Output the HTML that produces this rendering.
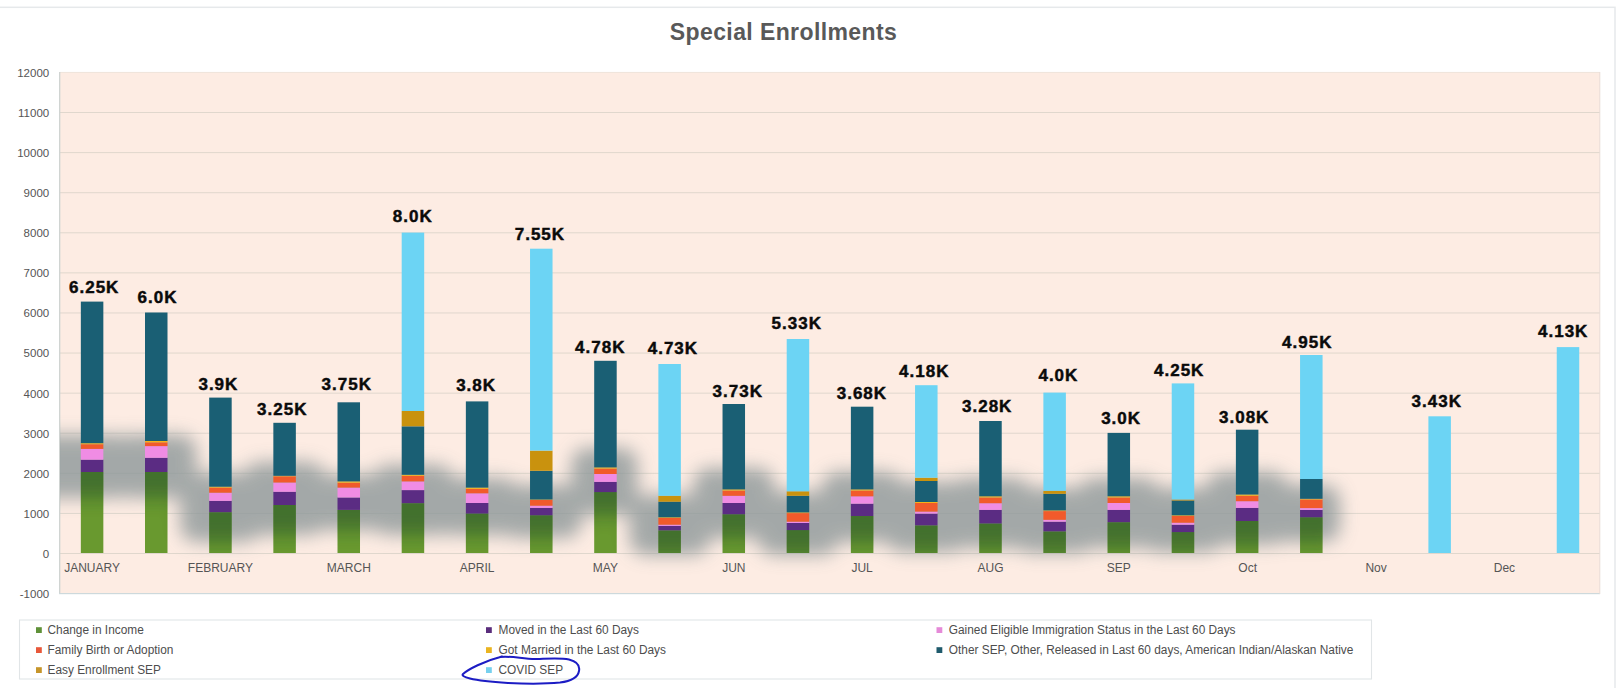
<!DOCTYPE html>
<html lang="en"><head><meta charset="utf-8"><title>Special Enrollments</title>
<style>
html,body{margin:0;padding:0;background:#fff;}
body{width:1618px;height:688px;overflow:hidden;font-family:"Liberation Sans",Arial,Helvetica,sans-serif;}
svg{display:block}
.ax{font-size:12px;fill:#555;}
.ay{font-size:11.5px;fill:#555;}
.dl{font-size:17px;font-weight:700;fill:#0a0a0a;stroke:#0a0a0a;stroke-width:.45px;letter-spacing:1px;text-anchor:middle;}
.lg{font-size:11.87px;fill:#4d4d4d;}
.title{font-size:23px;font-weight:700;fill:#595959;text-anchor:middle;letter-spacing:.4px;}
</style></head><body>
<svg width="1618" height="688" viewBox="0 0 1618 688" font-family="Liberation Sans, Arial, Helvetica, sans-serif">
<defs>
<filter id="blur" x="-5%" y="-50%" width="110%" height="200%"><feGaussianBlur stdDeviation="9"/></filter>

<g id="smudge">
<rect x="30.0" y="435" width="102.2" height="63" rx="16"/>
<rect x="116.2" y="435" width="80.2" height="63" rx="16"/>
<rect x="180.3" y="473" width="80.2" height="69" rx="16"/>
<rect x="244.5" y="462" width="80.2" height="73" rx="16"/>
<rect x="308.7" y="475" width="80.2" height="55" rx="16"/>
<rect x="372.9" y="465" width="80.2" height="70" rx="16"/>
<rect x="437.0" y="478" width="80.2" height="57" rx="16"/>
<rect x="501.2" y="485" width="80.2" height="53" rx="16"/>
<rect x="571.4" y="448" width="66.2" height="67" rx="16"/>
<rect x="629.5" y="495" width="80.2" height="60" rx="16"/>
<rect x="693.7" y="468" width="80.2" height="70" rx="16"/>
<rect x="757.9" y="492" width="80.2" height="63" rx="16"/>
<rect x="822.0" y="472" width="80.2" height="70" rx="16"/>
<rect x="886.2" y="482" width="80.2" height="70" rx="16"/>
<rect x="950.4" y="478" width="80.2" height="70" rx="16"/>
<rect x="1014.6" y="488" width="80.2" height="65" rx="16"/>
<rect x="1078.7" y="478" width="80.2" height="70" rx="16"/>
<rect x="1142.9" y="488" width="80.2" height="64" rx="16"/>
<rect x="1207.1" y="472" width="80.2" height="73" rx="16"/>
<rect x="1271.2" y="485" width="68.8" height="57" rx="16"/>
</g>
<clipPath id="greens">
<rect x="80.84" y="472" width="22.5" height="81.00"/>
<rect x="145.00" y="472" width="22.5" height="81.00"/>
<rect x="209.18" y="512.2" width="22.5" height="40.80"/>
<rect x="273.35" y="505" width="22.5" height="48.00"/>
<rect x="337.51" y="509.9" width="22.5" height="43.10"/>
<rect x="401.69" y="503.2" width="22.5" height="49.80"/>
<rect x="465.86" y="513.6" width="22.5" height="39.40"/>
<rect x="530.03" y="515.3" width="22.5" height="37.70"/>
<rect x="594.20" y="492.1" width="22.5" height="60.90"/>
<rect x="658.37" y="530.4" width="22.5" height="22.60"/>
<rect x="722.53" y="514.3" width="22.5" height="38.70"/>
<rect x="786.71" y="530.1" width="22.5" height="22.90"/>
<rect x="850.88" y="516" width="22.5" height="37.00"/>
<rect x="915.05" y="525.4" width="22.5" height="27.60"/>
<rect x="979.22" y="523.5" width="22.5" height="29.50"/>
<rect x="1043.38" y="531.4" width="22.5" height="21.60"/>
<rect x="1107.56" y="522.2" width="22.5" height="30.80"/>
<rect x="1171.73" y="532.1" width="22.5" height="20.90"/>
<rect x="1235.89" y="521" width="22.5" height="32.00"/>
<rect x="1300.07" y="517.3" width="22.5" height="35.70"/>
</clipPath>
<clipPath id="plotclip"><rect x="60" y="72" width="1540" height="522"/></clipPath>
</defs>
<rect x="-2" y="7.3" width="1617" height="700" fill="#fff" stroke="#e6e9eb" stroke-width="1.5"/>
<text class="title" x="783.5" y="39.5">Special Enrollments</text>
<rect x="59" y="72" width="1541" height="522" fill="#fdece3"/>
<rect x="60" y="553.00" width="1540" height="1" fill="#e0d7cd"/>
<rect x="60" y="512.91" width="1540" height="1" fill="#e0d7cd"/>
<rect x="60" y="472.82" width="1540" height="1" fill="#e0d7cd"/>
<rect x="60" y="432.73" width="1540" height="1" fill="#e0d7cd"/>
<rect x="60" y="392.64" width="1540" height="1" fill="#e0d7cd"/>
<rect x="60" y="352.55" width="1540" height="1" fill="#e0d7cd"/>
<rect x="60" y="312.46" width="1540" height="1" fill="#e0d7cd"/>
<rect x="60" y="272.37" width="1540" height="1" fill="#e0d7cd"/>
<rect x="60" y="232.28" width="1540" height="1" fill="#e0d7cd"/>
<rect x="60" y="192.19" width="1540" height="1" fill="#e0d7cd"/>
<rect x="60" y="152.10" width="1540" height="1" fill="#e0d7cd"/>
<rect x="60" y="112.01" width="1540" height="1" fill="#e0d7cd"/>
<rect x="60" y="71.92" width="1540" height="1" fill="#efe4dc"/>
<rect x="59" y="72" width="1.35" height="522" fill="#d0d4d2"/>
<rect x="59" y="592.99" width="1541" height="1.2" fill="#cdd9dc"/>
<rect x="1599.3" y="72" width="1" height="522" fill="#e9ddd7"/>
<text class="ay" x="49.2" y="597.99" text-anchor="end">-1000</text>
<text class="ay" x="49.2" y="557.90" text-anchor="end">0</text>
<text class="ay" x="49.2" y="517.81" text-anchor="end">1000</text>
<text class="ay" x="49.2" y="477.72" text-anchor="end">2000</text>
<text class="ay" x="49.2" y="437.63" text-anchor="end">3000</text>
<text class="ay" x="49.2" y="397.54" text-anchor="end">4000</text>
<text class="ay" x="49.2" y="357.45" text-anchor="end">5000</text>
<text class="ay" x="49.2" y="317.36" text-anchor="end">6000</text>
<text class="ay" x="49.2" y="277.27" text-anchor="end">7000</text>
<text class="ay" x="49.2" y="237.18" text-anchor="end">8000</text>
<text class="ay" x="49.2" y="197.09" text-anchor="end">9000</text>
<text class="ay" x="49.2" y="157.00" text-anchor="end">10000</text>
<text class="ay" x="49.2" y="116.91" text-anchor="end">11000</text>
<text class="ay" x="49.2" y="76.82" text-anchor="end">12000</text>
<g clip-path="url(#plotclip)"><use href="#smudge" filter="url(#blur)" fill="#8b9698" opacity="0.78"/></g>
<rect x="80.84" y="472" width="22.5" height="81.00" fill="#69992f"/>
<rect x="80.84" y="459.7" width="22.5" height="12.30" fill="#5b2c83"/>
<rect x="80.84" y="448.9" width="22.5" height="10.80" fill="#f08ce4"/>
<rect x="80.84" y="444.2" width="22.5" height="4.70" fill="#f15a2b"/>
<rect x="80.84" y="443.2" width="22.5" height="1.00" fill="#f5b21a"/>
<rect x="80.84" y="301.6" width="22.5" height="141.60" fill="#1a5f74"/>
<rect x="145.00" y="472" width="22.5" height="81.00" fill="#69992f"/>
<rect x="145.00" y="457.8" width="22.5" height="14.20" fill="#5b2c83"/>
<rect x="145.00" y="446.1" width="22.5" height="11.70" fill="#f08ce4"/>
<rect x="145.00" y="442.3" width="22.5" height="3.80" fill="#f15a2b"/>
<rect x="145.00" y="441" width="22.5" height="1.30" fill="#f5b21a"/>
<rect x="145.00" y="312.5" width="22.5" height="128.50" fill="#1a5f74"/>
<rect x="209.18" y="512.2" width="22.5" height="40.80" fill="#69992f"/>
<rect x="209.18" y="500.9" width="22.5" height="11.30" fill="#5b2c83"/>
<rect x="209.18" y="492.7" width="22.5" height="8.20" fill="#f08ce4"/>
<rect x="209.18" y="487.6" width="22.5" height="5.10" fill="#f15a2b"/>
<rect x="209.18" y="486.7" width="22.5" height="0.90" fill="#f5b21a"/>
<rect x="209.18" y="397.6" width="22.5" height="89.10" fill="#1a5f74"/>
<rect x="273.35" y="505" width="22.5" height="48.00" fill="#69992f"/>
<rect x="273.35" y="491.8" width="22.5" height="13.20" fill="#5b2c83"/>
<rect x="273.35" y="482.5" width="22.5" height="9.30" fill="#f08ce4"/>
<rect x="273.35" y="476.3" width="22.5" height="6.20" fill="#f15a2b"/>
<rect x="273.35" y="475.8" width="22.5" height="0.50" fill="#f5b21a"/>
<rect x="273.35" y="422.8" width="22.5" height="53.00" fill="#1a5f74"/>
<rect x="337.51" y="509.9" width="22.5" height="43.10" fill="#69992f"/>
<rect x="337.51" y="497.5" width="22.5" height="12.40" fill="#5b2c83"/>
<rect x="337.51" y="487.6" width="22.5" height="9.90" fill="#f08ce4"/>
<rect x="337.51" y="482.7" width="22.5" height="4.90" fill="#f15a2b"/>
<rect x="337.51" y="481.4" width="22.5" height="1.30" fill="#f5b21a"/>
<rect x="337.51" y="402.3" width="22.5" height="79.10" fill="#1a5f74"/>
<rect x="401.69" y="503.2" width="22.5" height="49.80" fill="#69992f"/>
<rect x="401.69" y="490.1" width="22.5" height="13.10" fill="#5b2c83"/>
<rect x="401.69" y="481.4" width="22.5" height="8.70" fill="#f08ce4"/>
<rect x="401.69" y="475.8" width="22.5" height="5.60" fill="#f15a2b"/>
<rect x="401.69" y="474.8" width="22.5" height="1.00" fill="#f5b21a"/>
<rect x="401.69" y="426.3" width="22.5" height="48.50" fill="#1a5f74"/>
<rect x="401.69" y="411" width="22.5" height="15.30" fill="#c9920e"/>
<rect x="401.69" y="232.6" width="22.5" height="178.40" fill="#6cd4f4"/>
<rect x="465.86" y="513.6" width="22.5" height="39.40" fill="#69992f"/>
<rect x="465.86" y="503" width="22.5" height="10.60" fill="#5b2c83"/>
<rect x="465.86" y="493.3" width="22.5" height="9.70" fill="#f08ce4"/>
<rect x="465.86" y="488.9" width="22.5" height="4.40" fill="#f15a2b"/>
<rect x="465.86" y="487.6" width="22.5" height="1.30" fill="#f5b21a"/>
<rect x="465.86" y="401.4" width="22.5" height="86.20" fill="#1a5f74"/>
<rect x="530.03" y="515.3" width="22.5" height="37.70" fill="#69992f"/>
<rect x="530.03" y="507.9" width="22.5" height="7.40" fill="#5b2c83"/>
<rect x="530.03" y="505.7" width="22.5" height="2.20" fill="#f08ce4"/>
<rect x="530.03" y="500" width="22.5" height="5.70" fill="#f15a2b"/>
<rect x="530.03" y="499.5" width="22.5" height="0.50" fill="#f5b21a"/>
<rect x="530.03" y="470.8" width="22.5" height="28.70" fill="#1a5f74"/>
<rect x="530.03" y="450.6" width="22.5" height="20.20" fill="#c9920e"/>
<rect x="530.03" y="248.7" width="22.5" height="201.90" fill="#6cd4f4"/>
<rect x="594.20" y="492.1" width="22.5" height="60.90" fill="#69992f"/>
<rect x="594.20" y="481.9" width="22.5" height="10.20" fill="#5b2c83"/>
<rect x="594.20" y="474" width="22.5" height="7.90" fill="#f08ce4"/>
<rect x="594.20" y="468.6" width="22.5" height="5.40" fill="#f15a2b"/>
<rect x="594.20" y="467.4" width="22.5" height="1.20" fill="#f5b21a"/>
<rect x="594.20" y="360.8" width="22.5" height="106.60" fill="#1a5f74"/>
<rect x="658.37" y="530.4" width="22.5" height="22.60" fill="#69992f"/>
<rect x="658.37" y="525.9" width="22.5" height="4.50" fill="#5b2c83"/>
<rect x="658.37" y="524.7" width="22.5" height="1.20" fill="#f08ce4"/>
<rect x="658.37" y="518" width="22.5" height="6.70" fill="#f15a2b"/>
<rect x="658.37" y="517.3" width="22.5" height="0.70" fill="#f5b21a"/>
<rect x="658.37" y="501.7" width="22.5" height="15.60" fill="#1a5f74"/>
<rect x="658.37" y="495.8" width="22.5" height="5.90" fill="#c9920e"/>
<rect x="658.37" y="364" width="22.5" height="131.80" fill="#6cd4f4"/>
<rect x="722.53" y="514.3" width="22.5" height="38.70" fill="#69992f"/>
<rect x="722.53" y="503" width="22.5" height="11.30" fill="#5b2c83"/>
<rect x="722.53" y="495.8" width="22.5" height="7.20" fill="#f08ce4"/>
<rect x="722.53" y="490.6" width="22.5" height="5.20" fill="#f15a2b"/>
<rect x="722.53" y="489.4" width="22.5" height="1.20" fill="#f5b21a"/>
<rect x="722.53" y="404" width="22.5" height="85.40" fill="#1a5f74"/>
<rect x="786.71" y="530.1" width="22.5" height="22.90" fill="#69992f"/>
<rect x="786.71" y="523" width="22.5" height="7.10" fill="#5b2c83"/>
<rect x="786.71" y="521.7" width="22.5" height="1.30" fill="#f08ce4"/>
<rect x="786.71" y="513.1" width="22.5" height="8.60" fill="#f15a2b"/>
<rect x="786.71" y="512.4" width="22.5" height="0.70" fill="#f5b21a"/>
<rect x="786.71" y="495.8" width="22.5" height="16.60" fill="#1a5f74"/>
<rect x="786.71" y="491.3" width="22.5" height="4.50" fill="#c9920e"/>
<rect x="786.71" y="339" width="22.5" height="152.30" fill="#6cd4f4"/>
<rect x="850.88" y="516" width="22.5" height="37.00" fill="#69992f"/>
<rect x="850.88" y="503.7" width="22.5" height="12.30" fill="#5b2c83"/>
<rect x="850.88" y="496.3" width="22.5" height="7.40" fill="#f08ce4"/>
<rect x="850.88" y="490.6" width="22.5" height="5.70" fill="#f15a2b"/>
<rect x="850.88" y="489.4" width="22.5" height="1.20" fill="#f5b21a"/>
<rect x="850.88" y="406.7" width="22.5" height="82.70" fill="#1a5f74"/>
<rect x="915.05" y="525.4" width="22.5" height="27.60" fill="#69992f"/>
<rect x="915.05" y="513.6" width="22.5" height="11.80" fill="#5b2c83"/>
<rect x="915.05" y="511.6" width="22.5" height="2.00" fill="#f08ce4"/>
<rect x="915.05" y="503" width="22.5" height="8.60" fill="#f15a2b"/>
<rect x="915.05" y="502" width="22.5" height="1.00" fill="#f5b21a"/>
<rect x="915.05" y="481" width="22.5" height="21.00" fill="#1a5f74"/>
<rect x="915.05" y="477.7" width="22.5" height="3.30" fill="#c9920e"/>
<rect x="915.05" y="385.2" width="22.5" height="92.50" fill="#6cd4f4"/>
<rect x="979.22" y="523.5" width="22.5" height="29.50" fill="#69992f"/>
<rect x="979.22" y="509.9" width="22.5" height="13.60" fill="#5b2c83"/>
<rect x="979.22" y="503.2" width="22.5" height="6.70" fill="#f08ce4"/>
<rect x="979.22" y="497.5" width="22.5" height="5.70" fill="#f15a2b"/>
<rect x="979.22" y="496.3" width="22.5" height="1.20" fill="#f5b21a"/>
<rect x="979.22" y="421" width="22.5" height="75.30" fill="#1a5f74"/>
<rect x="1043.38" y="531.4" width="22.5" height="21.60" fill="#69992f"/>
<rect x="1043.38" y="521.7" width="22.5" height="9.70" fill="#5b2c83"/>
<rect x="1043.38" y="519.8" width="22.5" height="1.90" fill="#f08ce4"/>
<rect x="1043.38" y="511.1" width="22.5" height="8.70" fill="#f15a2b"/>
<rect x="1043.38" y="510.4" width="22.5" height="0.70" fill="#f5b21a"/>
<rect x="1043.38" y="493.8" width="22.5" height="16.60" fill="#1a5f74"/>
<rect x="1043.38" y="490.8" width="22.5" height="3.00" fill="#c9920e"/>
<rect x="1043.38" y="392.6" width="22.5" height="98.20" fill="#6cd4f4"/>
<rect x="1107.56" y="522.2" width="22.5" height="30.80" fill="#69992f"/>
<rect x="1107.56" y="509.9" width="22.5" height="12.30" fill="#5b2c83"/>
<rect x="1107.56" y="503" width="22.5" height="6.90" fill="#f08ce4"/>
<rect x="1107.56" y="497.5" width="22.5" height="5.50" fill="#f15a2b"/>
<rect x="1107.56" y="496.3" width="22.5" height="1.20" fill="#f5b21a"/>
<rect x="1107.56" y="432.9" width="22.5" height="63.40" fill="#1a5f74"/>
<rect x="1171.73" y="532.1" width="22.5" height="20.90" fill="#69992f"/>
<rect x="1171.73" y="524.7" width="22.5" height="7.40" fill="#5b2c83"/>
<rect x="1171.73" y="522.7" width="22.5" height="2.00" fill="#f08ce4"/>
<rect x="1171.73" y="516" width="22.5" height="6.70" fill="#f15a2b"/>
<rect x="1171.73" y="515.3" width="22.5" height="0.70" fill="#f5b21a"/>
<rect x="1171.73" y="500.5" width="22.5" height="14.80" fill="#1a5f74"/>
<rect x="1171.73" y="499.5" width="22.5" height="1.00" fill="#c9920e"/>
<rect x="1171.73" y="383.4" width="22.5" height="116.10" fill="#6cd4f4"/>
<rect x="1235.89" y="521" width="22.5" height="32.00" fill="#69992f"/>
<rect x="1235.89" y="507.9" width="22.5" height="13.10" fill="#5b2c83"/>
<rect x="1235.89" y="501.2" width="22.5" height="6.70" fill="#f08ce4"/>
<rect x="1235.89" y="495.8" width="22.5" height="5.40" fill="#f15a2b"/>
<rect x="1235.89" y="494.5" width="22.5" height="1.30" fill="#f5b21a"/>
<rect x="1235.89" y="429.7" width="22.5" height="64.80" fill="#1a5f74"/>
<rect x="1300.07" y="517.3" width="22.5" height="35.70" fill="#69992f"/>
<rect x="1300.07" y="509.9" width="22.5" height="7.40" fill="#5b2c83"/>
<rect x="1300.07" y="508.1" width="22.5" height="1.80" fill="#f08ce4"/>
<rect x="1300.07" y="499.5" width="22.5" height="8.60" fill="#f15a2b"/>
<rect x="1300.07" y="498.8" width="22.5" height="0.70" fill="#f5b21a"/>
<rect x="1300.07" y="479" width="22.5" height="19.80" fill="#1a5f74"/>
<rect x="1300.07" y="355" width="22.5" height="124.00" fill="#6cd4f4"/>
<rect x="1428.40" y="416.3" width="22.5" height="136.70" fill="#6cd4f4"/>
<rect x="1556.75" y="347.1" width="22.5" height="205.90" fill="#6cd4f4"/>
<g clip-path="url(#greens)"><use href="#smudge" filter="url(#blur)" fill="#16402f" opacity="0.45"/></g>
<text class="dl" x="94.2" y="292.7">6.25K</text>
<text class="dl" x="157.5" y="302.6">6.0K</text>
<text class="dl" x="218.4" y="389.9">3.9K</text>
<text class="dl" x="282.3" y="414.6">3.25K</text>
<text class="dl" x="346.8" y="389.9">3.75K</text>
<text class="dl" x="412.8" y="221.7">8.0K</text>
<text class="dl" x="476.1" y="390.9">3.8K</text>
<text class="dl" x="539.9" y="239.7">7.55K</text>
<text class="dl" x="600.3" y="352.8">4.78K</text>
<text class="dl" x="672.9" y="354.1">4.73K</text>
<text class="dl" x="737.8" y="396.6">3.73K</text>
<text class="dl" x="796.8" y="329.1">5.33K</text>
<text class="dl" x="861.9" y="398.8">3.68K</text>
<text class="dl" x="924.3" y="377.3">4.18K</text>
<text class="dl" x="987.2" y="411.9">3.28K</text>
<text class="dl" x="1058.4" y="381.0">4.0K</text>
<text class="dl" x="1121.1" y="424.2">3.0K</text>
<text class="dl" x="1179.2" y="375.5">4.25K</text>
<text class="dl" x="1244.2" y="423.0">3.08K</text>
<text class="dl" x="1307.3" y="347.6">4.95K</text>
<text class="dl" x="1436.8" y="406.9">3.43K</text>
<text class="dl" x="1563.2" y="336.6">4.13K</text>
<text class="ax" x="92.1" y="572" text-anchor="middle">JANUARY</text>
<text class="ax" x="220.4" y="572" text-anchor="middle">FEBRUARY</text>
<text class="ax" x="348.8" y="572" text-anchor="middle">MARCH</text>
<text class="ax" x="477.1" y="572" text-anchor="middle">APRIL</text>
<text class="ax" x="605.4" y="572" text-anchor="middle">MAY</text>
<text class="ax" x="733.8" y="572" text-anchor="middle">JUN</text>
<text class="ax" x="862.1" y="572" text-anchor="middle">JUL</text>
<text class="ax" x="990.5" y="572" text-anchor="middle">AUG</text>
<text class="ax" x="1118.8" y="572" text-anchor="middle">SEP</text>
<text class="ax" x="1247.7" y="572" text-anchor="middle">Oct</text>
<text class="ax" x="1376.1" y="572" text-anchor="middle">Nov</text>
<text class="ax" x="1504.4" y="572" text-anchor="middle">Dec</text>
<rect x="19.5" y="620" width="1352" height="59" fill="#fff" stroke="#e1e5e7" stroke-width="1.1"/>
<rect x="36" y="627.2" width="5.8" height="5.8" fill="#5f9138"/>
<text class="lg" x="47.5" y="634.2">Change in Income</text>
<rect x="36" y="647.2" width="5.8" height="5.8" fill="#e8583a"/>
<text class="lg" x="47.5" y="654.2">Family Birth or Adoption</text>
<rect x="36" y="667.2" width="5.8" height="5.8" fill="#c6952a"/>
<text class="lg" x="47.5" y="674.2">Easy Enrollment SEP</text>
<rect x="486" y="627.2" width="5.8" height="5.8" fill="#5a2d7c"/>
<text class="lg" x="498.5" y="634.2">Moved in the Last 60 Days</text>
<rect x="486" y="647.2" width="5.8" height="5.8" fill="#eab420"/>
<text class="lg" x="498.5" y="654.2">Got Married in the Last 60 Days</text>
<rect x="486" y="667.2" width="5.8" height="5.8" fill="#76d0ee"/>
<text class="lg" x="498.5" y="674.2">COVID SEP</text>
<rect x="936.5" y="627.2" width="5.8" height="5.8" fill="#e58ad8"/>
<text class="lg" x="948.8" y="634.2">Gained Eligible Immigration Status in the Last 60 Days</text>
<rect x="936.5" y="647.2" width="5.8" height="5.8" fill="#1f5a6c"/>
<text class="lg" x="948.8" y="654.2">Other SEP, Other, Released in Last 60 days, American Indian/Alaskan Native</text>
<path d="M500,657 C512,655.5 524,659.5 537,659 C548,658.6 560,657.5 569,659.5 C577,661.5 580,666 579,671 C578,677 572,681 560,682.5 C545,684 525,683.8 508,683 C492,682 478,680.5 470,678.5 C464,677 461.5,675.5 463,674 C468,669.5 484,661 502,656.5" fill="none" stroke="#1c1cc4" stroke-width="2" stroke-linecap="round"/>
</svg></body></html>
